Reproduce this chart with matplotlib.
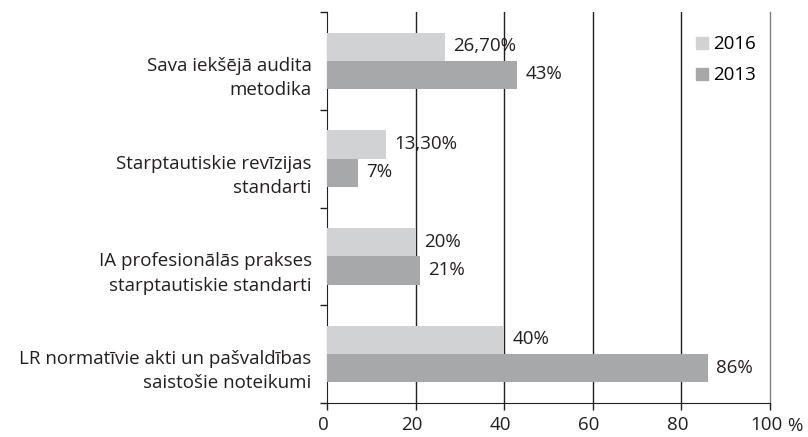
import matplotlib.pyplot as plt
import matplotlib.transforms as mtransforms
from matplotlib.lines import Line2D

plt.rcParams['font.family'] = ['Open Sans', 'DejaVu Sans']

# dati
categories = ['Sava iekšējā audita\nmetodika',
              'Starptautiskie revīzijas\nstandarti',
              'IA profesionālās prakses\nstarptautiskie standarti',
              'LR normatīvie akti un pašvaldības\nsaistošie noteikumi']
values_2016 = [26.7, 13.3, 20, 40]
values_2013 = [43, 7, 21, 86]
labels_2016 = ['26,70%', '13,30%', '20%', '40%']
labels_2013 = ['43%', '7%', '21%', '86%']
xticks = [0, 20, 40, 60, 80, 100]

c2016 = '#d1d2d4'
c2013 = '#a7a8aa'
line_c = '#231f20'
fs = 13.5

fig = plt.figure(figsize=(8.08, 4.37), dpi=100)
ax = fig.add_axes([0.4047, 0.0778, 0.5483, 0.8947])

y = list(range(len(categories)))
h = 0.29
ax.barh([i - h / 2 for i in y], values_2016, height=h, color=c2016, zorder=3)
ax.barh([i + h / 2 for i in y], values_2013, height=h, color=c2013, zorder=3)

# vērtību uzraksti
for i in y:
    ax.annotate(labels_2016[i], (values_2016[i], i - h / 2), xytext=(6, 0.5),
                textcoords='offset points', va='center', fontsize=fs, color=line_c)
    ax.annotate(labels_2013[i], (values_2013[i], i + h / 2), xytext=(6, 0.5),
                textcoords='offset points', va='center', fontsize=fs, color=line_c)

ax.set_xlim(0, 100)
ax.set_ylim(3.5, -0.5)
ax.set_xticks(xticks)
ax.set_xticklabels([str(t) for t in xticks], fontsize=fs, color=line_c)
ax.tick_params(axis='x', length=5, color=line_c, width=1, direction='out', pad=4)
# "%" pēc 100
ax.annotate('%', (1.0, 0), xycoords='axes fraction', xytext=(12, -10),
            textcoords='offset points', fontsize=fs, color=line_c, va='top', ha='left')
shift_x = mtransforms.ScaledTranslation(-4 / 100, 0, fig.dpi_scale_trans)
for lab in ax.get_xticklabels():
    lab.set_transform(lab.get_transform() + shift_x)

ax.set_yticks(y)
ax.set_yticklabels(categories, fontsize=fs, color=line_c, ha='right', linespacing=1.45)
ax.tick_params(axis='y', length=0, pad=11)
shift_y = mtransforms.ScaledTranslation(0, -12 / 100, fig.dpi_scale_trans)
for lab in ax.get_yticklabels():
    lab.set_transform(lab.get_transform() + shift_y)
ax.set_yticks([-0.5, 0.5, 1.5, 2.5, 3.5], minor=True)
ax.tick_params(axis='y', which='minor', length=5, color=line_c, width=1)

for t in xticks[1:-1]:
    ax.axvline(t, color=line_c, linewidth=1, zorder=1)
ax.axvline(100, color='#808080', linewidth=1, zorder=1, clip_on=False)

ax.spines['top'].set_visible(False)
ax.spines['right'].set_visible(False)
ax.spines['left'].set_color(line_c)
ax.spines['bottom'].set_color(line_c)

handles = [Line2D([], [], marker='s', linestyle='none', markersize=9, color=c2016),
           Line2D([], [], marker='s', linestyle='none', markersize=9, color=c2013)]
ax.legend(handles, ['2016', '2013'], loc='upper right', bbox_to_anchor=(0.985, 0.96),
          frameon=False, fontsize=fs, handletextpad=0.1, labelspacing=0.7,
          borderaxespad=0, handlelength=1)

plt.savefig('out.png', dpi=100)
